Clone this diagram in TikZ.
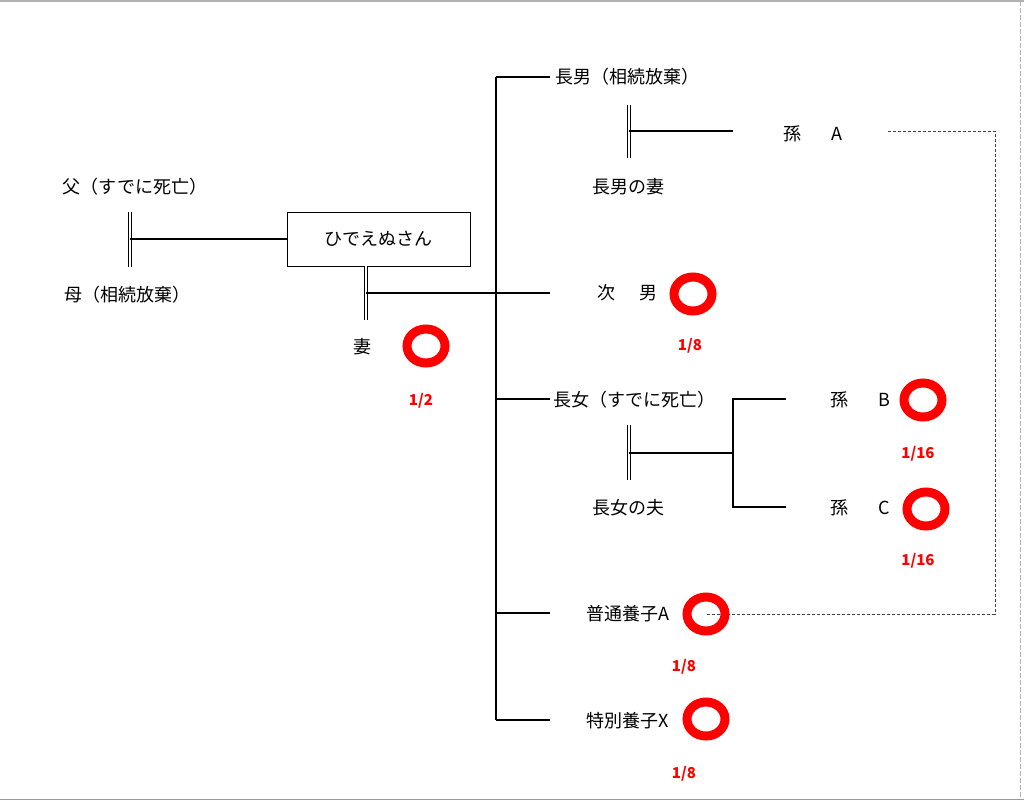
\documentclass[tikz,border=0pt]{standalone}
\usepackage{fontspec}
\setmainfont{Noto Sans CJK JP}
\usetikzlibrary{positioning,shapes.geometric}
\tikzset{
  person/.style={font=\fontsize{18}{21}\selectfont, inner sep=1pt},
  share/.style={text=red, font=\fontsize{15}{18}\selectfont\bfseries},
  heir/.style={draw=red, line width=9pt, ellipse, minimum width=38pt, minimum height=34pt, inner sep=0pt},
  kin/.style={line width=2pt},
  couple/.style={double, line width=0.9pt, double distance=2.2pt},
  adopt/.style={black!75, line width=1pt, dash pattern=on 3pt off 2pt}
}
\begin{document}
\begin{tikzpicture}[x=1pt,y=-1pt]
\useasboundingbox (0,0) rectangle (1024,801);
% frame
\draw[gray!60, line width=1.5pt] (0,1) -- (1024,1);
\draw[gray!60, line width=1pt, dash pattern=on 5pt off 2pt] (1020,1) -- (1020,799);
\draw[gray!80, line width=1.5pt] (0,799.5) -- (1024,799.5);

% parents
\node[person] (father) at (135,187) {父（すでに死亡）};
\node[person] (mother) at (127,295) {母（相続放棄）};
\node[person, draw, line width=0.8pt, minimum width=183pt, minimum height=54pt] (hide) at (378.5,239) {ひでえぬさん};
\coordinate (pm) at (130,239);
\draw[couple] (130,212) -- (130,267);
\draw[kin] (pm) -- (hide.west);

% wife
\node[person] (wife) at (362,347) {妻};
\coordinate (wm) at (366,293);
\draw[couple] (hide.south -| wm) -- (366,320);

% children
\node[person, anchor=west] (son1) at (554,77) {長男（相続放棄）};
\node[person] (son1w) at (628,187) {長男の妻};
\node[person] (gcA) at (813,134) {孫\hspace{30pt}A};
\node[person] (son2) at (627,293) {次\hspace{24pt}男};
\node[person, anchor=west] (dau) at (552,400) {長女（すでに死亡）};
\node[person] (dauh) at (628,508) {長女の夫};
\node[person] (gcB) at (860,400) {孫\hspace{30pt}B};
\node[person] (gcC) at (860,508) {孫\hspace{30pt}C};
\node[person] (adA) at (628,614) {普通養子A};
\node[person] (adX) at (628,721) {特別養子X};

% trunk and branches
\draw[kin] (496,77) -- (496,720);
\foreach \y in {77,399,613,720}
  \draw[kin] (496,\y) -- (550,\y);
\draw[kin] (wm) -- (550,293);

% eldest son and wife
\coordinate (s1m) at (629,131);
\draw[couple] (629,105) -- (629,158);
\draw[kin] (s1m) -- (733,131);

% eldest daughter and husband
\coordinate (d1m) at (629,453);
\draw[couple] (629,425) -- (629,480);
\draw[kin] (d1m) -- (733,453);
\draw[kin] (786,399) -- (733,399) -- (733,507) -- (786,507);

% adoption link
\coordinate (a1) at (888,131);
\coordinate (adAc) at (706,614);
\draw[adopt] (a1) -- (995,131) |- (adAc);

% heirs
\node[heir] (o-wife) at (426,346) {};
\node[heir] (o-son2) at (693,294) {};
\node[heir] (o-gcB) at (923,400) {};
\node[heir] (o-gcC) at (926,509) {};
\node[heir] (o-adA) at (adAc) {};
\node[heir] (o-adX) at (706,719) {};

% shares
\node[share] (s-wife) at (421,401) {1/2};
\node[share] (s-son2) at (690,346) {1/8};
\node[share] (s-gcB) at (918,454) {1/16};
\node[share] (s-gcC) at (918,561) {1/16};
\node[share] (s-adA) at (684,667) {1/8};
\node[share] (s-adX) at (684,774) {1/8};
\end{tikzpicture}
\end{document}
